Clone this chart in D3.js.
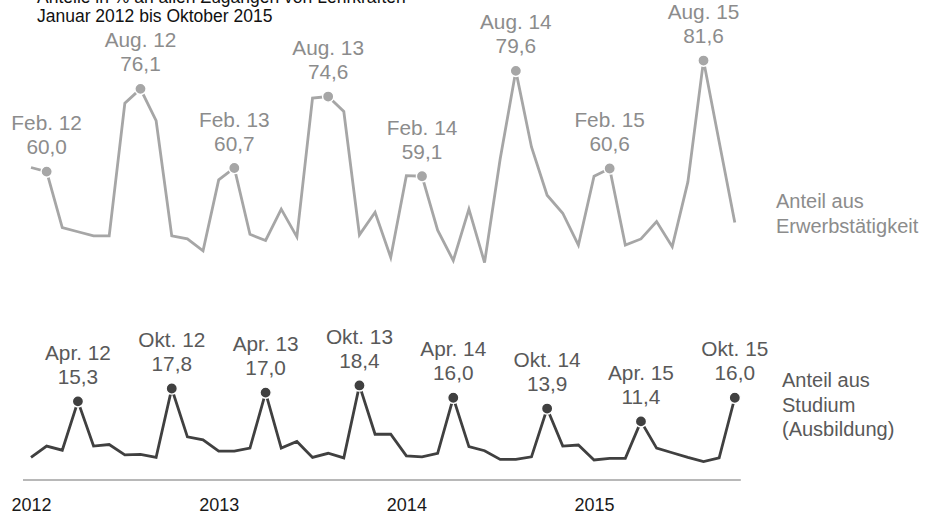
<!DOCTYPE html>
<html>
<head>
<meta charset="utf-8">
<script src="https://cdn.jsdelivr.net/npm/d3@7/dist/d3.min.js"></script>
<style>
  html, body { margin: 0; padding: 0; background: #fff; }
  svg { display: block; font-family: "Liberation Sans", Arial, sans-serif; }
</style>
</head>
<body>
<svg id="chart" width="929" height="511"></svg>
<script>
// Monthly shares (in %) of all inflows, January 2012 – October 2015
const years = [2012, 2013, 2014, 2015];
const monthNames = ["Jan.", "Feb.", "März", "Apr.", "Mai", "Juni", "Juli", "Aug.", "Sep.", "Okt.", "Nov.", "Dez."];
const monthCount = 46;

const erwerbValues = [
  60.8, 60.0, 49.1, 48.3, 47.5, 47.5, 73.3, 76.1, 69.9, 47.5, 46.9, 44.6,
  58.4, 60.7, 47.8, 46.6, 52.7, 47.3, 74.3, 74.6, 71.7, 47.7, 52.1, 43.3,
  59.2, 59.1, 48.6, 42.7, 52.7, 42.3, 62.5, 79.6, 64.8, 55.4, 51.9, 45.7,
  59.1, 60.6, 45.7, 46.9, 50.3, 45.4, 58.0, 81.6, 65.8, 50.1
];
const studiumValues = [
  4.4, 6.6, 5.8, 15.3, 6.6, 6.9, 4.9, 5.0, 4.4, 17.8, 8.4, 7.8,
  5.6, 5.6, 6.2, 17.0, 6.2, 7.5, 4.4, 5.2, 4.3, 18.4, 8.9, 8.9,
  4.7, 4.5, 5.2, 16.0, 6.5, 5.7, 4.0, 4.0, 4.5, 13.9, 6.6, 6.8,
  3.9, 4.2, 4.2, 11.4, 6.2, 5.3, 4.4, 3.6, 4.3, 16.0
];
// Highlighted months (index into the month list)
const erwerbHighlights = [1, 7, 13, 19, 25, 31, 37, 43];
const studiumHighlights = [3, 9, 15, 21, 27, 33, 39, 45];

const titleLines = ["Anteile in % an allen Zugängen von Lehrkräften", "Januar 2012 bis Oktober 2015"];
const erwerbLabel = ["Anteil aus", "Erwerbstätigkeit"];
const studiumLabel = ["Anteil aus", "Studium", "(Ausbildung)"];

// Month keys and display names
const months = d3.range(monthCount).map(i => ({
  key: `${years[0] + Math.floor(i / 12)}-${String(i % 12 + 1).padStart(2, "0")}`,
  name: `${monthNames[i % 12]} ${String(years[0] + Math.floor(i / 12)).slice(2)}`
}));
const keys = months.map(m => m.key);

const svg = d3.select("#chart");
const deFormat = d3.formatLocale({ decimal: ",", thousands: ".", grouping: [3], currency: ["", " €"] }).format(".1f");

const x = d3.scalePoint().domain(keys).range([31, 734.8]).padding(0);
const y = d3.scaleLinear().domain([0, 90]).range([480, 17.4]);

// Title
svg.append("g").selectAll("text").data(titleLines).join("text")
  .attr("x", 37).attr("y", (d, i) => 3 + i * 19)
  .attr("font-size", 17.5).attr("fill", "#111")
  .text(d => d);

// Baseline
svg.append("line")
  .attr("x1", x(keys[0]) - 8).attr("x2", x(keys[keys.length - 1]) + 6)
  .attr("y1", y(0)).attr("y2", y(0))
  .attr("stroke", "#a0a0a0").attr("stroke-width", 1.3);

// Year labels at each January
const xAxis = d3.axisBottom(x)
  .tickValues(years.map(yr => `${yr}-01`))
  .tickSize(0).tickPadding(0)
  .tickFormat(k => k.slice(0, 4));
const axisG = svg.append("g").attr("transform", `translate(0,${y(0) + 18})`).call(xAxis);
axisG.select(".domain").remove();
axisG.selectAll("text").attr("font-size", 18).attr("fill", "#1a1a1a")
  .attr("font-family", "Liberation Sans, Arial, sans-serif");

function drawSeries(values, highlights, lineColor, textColor, sideLabel, sideX, sideY) {
  const data = values.map((v, i) => ({ key: keys[i], v, name: months[i].name }));
  const line = d3.line().x(d => x(d.key)).y(d => y(d.v));
  svg.append("path").datum(data)
    .attr("d", line).attr("fill", "none")
    .attr("stroke", lineColor).attr("stroke-width", 2.8)
    .attr("stroke-linejoin", "miter");

  const hl = highlights.map(i => data[i]);
  svg.append("g").selectAll("circle").data(hl).join("circle")
    .attr("cx", d => x(d.key)).attr("cy", d => y(d.v)).attr("r", 5.6)
    .attr("fill", lineColor).attr("stroke", "#fff").attr("stroke-width", 1.4);

  const lbl = svg.append("g").attr("font-size", 20.8).attr("fill", textColor).attr("text-anchor", "middle");
  lbl.selectAll("text.n").data(hl).join("text").attr("class", "n")
    .attr("x", d => x(d.key)).attr("y", d => y(d.v) - 41.5).text(d => d.name);
  lbl.selectAll("text.v").data(hl).join("text").attr("class", "v")
    .attr("x", d => x(d.key)).attr("y", d => y(d.v) - 17.5).text(d => deFormat(d.v));

  svg.append("g").selectAll("text").data(sideLabel).join("text")
    .attr("x", sideX).attr("y", (d, i) => sideY + i * 24.5)
    .attr("font-size", 20).attr("fill", textColor).text(d => d);
}

drawSeries(erwerbValues, erwerbHighlights, "#a6a6a6", "#8c8c8c", erwerbLabel, 776, 208);
drawSeries(studiumValues, studiumHighlights, "#404040", "#595959", studiumLabel, 782, 387);
</script>
</body>
</html>
